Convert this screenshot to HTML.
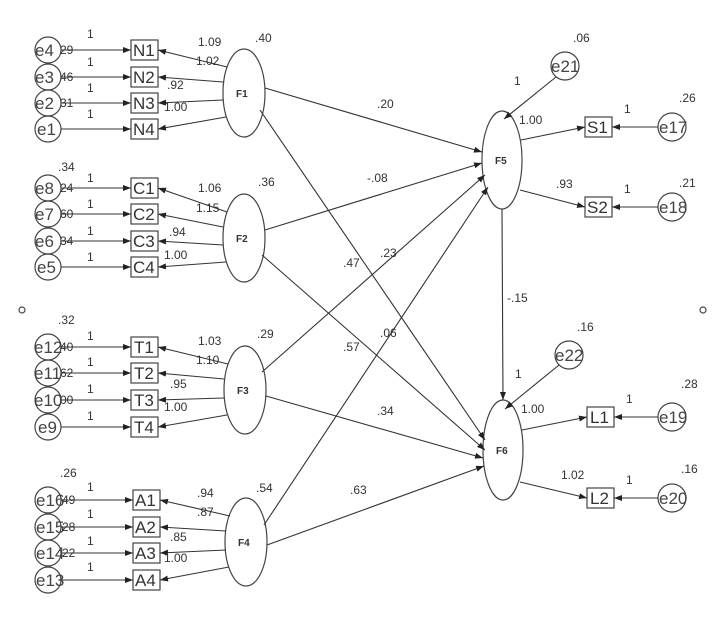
<!DOCTYPE html>
<html><head><meta charset="utf-8"><style>
html,body{margin:0;padding:0;background:#fff;}
svg{display:block;font-family:"Liberation Sans",Arial,sans-serif;}
.l{font-size:12px;fill:#333;}
.b{font-size:17px;fill:#333;}
.e{font-size:17px;fill:#444;}
.f{font-size:10px;font-weight:bold;fill:#333;}
</style></head><body>
<svg width="720" height="619" viewBox="0 0 720 619" xmlns="http://www.w3.org/2000/svg">
<defs><marker id="a" markerWidth="8" markerHeight="6" refX="8" refY="3" orient="auto" markerUnits="userSpaceOnUse"><path d="M0,0 L8,3 L0,6z" fill="#222"/></marker></defs>
<g stroke="#444" stroke-width="1.2" fill="none">
<!-- F1 group -->
<circle cx="48" cy="50" r="13"/><circle cx="48" cy="77" r="13"/><circle cx="48" cy="103" r="13"/><circle cx="48" cy="129" r="13"/>
<rect x="131" y="40" width="27" height="20"/><rect x="131" y="67" width="27" height="20"/><rect x="131" y="93" width="27" height="20"/><rect x="131" y="119" width="27" height="20"/>
<ellipse cx="244" cy="93" rx="21" ry="44"/>
<!-- F2 -->
<circle cx="48" cy="188" r="13"/><circle cx="48" cy="214" r="13"/><circle cx="48" cy="241" r="13"/><circle cx="48" cy="267" r="13"/>
<rect x="131" y="178" width="27" height="20"/><rect x="131" y="204" width="27" height="20"/><rect x="131" y="231" width="27" height="20"/><rect x="131" y="257" width="27" height="20"/>
<ellipse cx="244" cy="238" rx="21" ry="44"/>
<!-- F3 -->
<circle cx="48" cy="347" r="13"/><circle cx="48" cy="373" r="13"/><circle cx="48" cy="400" r="13"/><circle cx="48" cy="427" r="13"/>
<rect x="131" y="337" width="27" height="20"/><rect x="131" y="363" width="27" height="20"/><rect x="131" y="390" width="27" height="20"/><rect x="131" y="417" width="27" height="20"/>
<ellipse cx="245" cy="390" rx="21" ry="44"/>
<!-- F4 -->
<circle cx="48" cy="500" r="13"/><circle cx="48" cy="527" r="13"/><circle cx="48" cy="553" r="13"/><circle cx="48" cy="580" r="13"/>
<rect x="133" y="490" width="27" height="20"/><rect x="133" y="517" width="27" height="20"/><rect x="133" y="543" width="27" height="20"/><rect x="133" y="570" width="27" height="20"/>
<ellipse cx="246" cy="542" rx="21" ry="44"/>
<!-- right -->
<ellipse cx="502" cy="160" rx="20" ry="49"/><ellipse cx="503" cy="450" rx="20" ry="50"/>
<rect x="585" y="117" width="27" height="20"/><rect x="585" y="197" width="27" height="20"/>
<rect x="587" y="407" width="27" height="20"/><rect x="587" y="488" width="27" height="20"/>
<circle cx="672" cy="127" r="14"/><circle cx="672" cy="207" r="14"/><circle cx="672" cy="417" r="14"/><circle cx="672" cy="498" r="14"/>
<circle cx="565" cy="66" r="14"/><circle cx="569" cy="355" r="14"/>
<circle cx="22" cy="310" r="3"/><circle cx="703" cy="310" r="3"/>
</g>
<g stroke="#333" stroke-width="1.1" marker-end="url(#a)">
<line x1="61" y1="50" x2="131" y2="50"/><line x1="61" y1="77" x2="131" y2="77"/><line x1="61" y1="103" x2="131" y2="103"/><line x1="61" y1="129" x2="131" y2="129"/>
<line x1="227" y1="67" x2="158" y2="50"/><line x1="223" y1="82" x2="158" y2="77"/><line x1="223" y1="100" x2="158" y2="103"/><line x1="226" y1="117" x2="158" y2="129"/>
<line x1="61" y1="188" x2="131" y2="188"/><line x1="61" y1="214" x2="131" y2="214"/><line x1="61" y1="241" x2="131" y2="241"/><line x1="61" y1="267" x2="131" y2="267"/>
<line x1="227" y1="212" x2="158" y2="188"/><line x1="223" y1="227" x2="158" y2="214"/><line x1="223" y1="245" x2="158" y2="241"/><line x1="226" y1="262" x2="158" y2="267"/>
<line x1="61" y1="347" x2="131" y2="347"/><line x1="61" y1="373" x2="131" y2="373"/><line x1="61" y1="400" x2="131" y2="400"/><line x1="61" y1="427" x2="131" y2="427"/>
<line x1="228" y1="364" x2="158" y2="347"/><line x1="224" y1="379" x2="158" y2="373"/><line x1="224" y1="398" x2="158" y2="400"/><line x1="227" y1="415" x2="158" y2="427"/>
<line x1="61" y1="500" x2="133" y2="500"/><line x1="61" y1="527" x2="133" y2="527"/><line x1="61" y1="553" x2="133" y2="553"/><line x1="61" y1="580" x2="133" y2="580"/>
<line x1="230" y1="516" x2="160" y2="500"/><line x1="226" y1="531" x2="160" y2="527"/><line x1="226" y1="550" x2="160" y2="553"/><line x1="229" y1="567" x2="160" y2="580"/>
<line x1="265" y1="88" x2="482" y2="152"/><line x1="260" y1="110" x2="485" y2="440"/>
<line x1="265" y1="230" x2="482" y2="163"/><line x1="262" y1="255" x2="485" y2="450"/>
<line x1="262" y1="372" x2="485" y2="175"/><line x1="266" y1="396" x2="483" y2="458"/>
<line x1="264" y1="525" x2="488" y2="187"/><line x1="267" y1="545" x2="484" y2="466"/>
<line x1="502" y1="209" x2="503" y2="400"/>
<line x1="556" y1="77" x2="504" y2="119"/><line x1="559" y1="365" x2="505" y2="409"/>
<line x1="521" y1="140" x2="585" y2="127"/><line x1="520" y1="190" x2="585" y2="207"/>
<line x1="658" y1="127" x2="612" y2="127"/><line x1="658" y1="207" x2="612" y2="207"/>
<line x1="522" y1="430" x2="587" y2="417"/><line x1="520" y1="482" x2="587" y2="498"/>
<line x1="658" y1="417" x2="614" y2="417"/><line x1="658" y1="498" x2="614" y2="498"/>
</g>
<g class="e">
<text x="35" y="56">e4</text><text x="35" y="83">e3</text><text x="35" y="109">e2</text><text x="37" y="135">e1</text>
<text x="35" y="194">e8</text><text x="35" y="220">e7</text><text x="35" y="247">e6</text><text x="37" y="273">e5</text>
<text x="34" y="353">e12</text><text x="34" y="379">e11</text><text x="34" y="406">e10</text><text x="38" y="433">e9</text>
<text x="36" y="506">e16</text><text x="36" y="533">e15</text><text x="36" y="559">e14</text><text x="36" y="586">e13</text>
<text x="659" y="133">e17</text><text x="659" y="213">e18</text><text x="659" y="423">e19</text><text x="659" y="504">e20</text>
<text x="551" y="72">e21</text><text x="555" y="361">e22</text>
</g>
<g class="b">
<text x="133" y="56">N1</text><text x="133" y="83">N2</text><text x="133" y="109">N3</text><text x="133" y="135">N4</text>
<text x="133" y="194">C1</text><text x="133" y="220">C2</text><text x="133" y="247">C3</text><text x="133" y="273">C4</text>
<text x="134" y="353">T1</text><text x="134" y="379">T2</text><text x="134" y="406">T3</text><text x="134" y="433">T4</text>
<text x="135" y="506">A1</text><text x="135" y="533">A2</text><text x="135" y="559">A3</text><text x="135" y="586">A4</text>
<text x="587" y="133">S1</text><text x="587" y="213">S2</text><text x="590" y="423">L1</text><text x="590" y="504">L2</text>
</g>
<g class="f">
<text x="236" y="97">F1</text><text x="236" y="242">F2</text><text x="237" y="394">F3</text><text x="238" y="546">F4</text>
<text x="495" y="164">F5</text><text x="496" y="454">F6</text>
</g>
<g class="l">
<text x="87" y="38">1</text><text x="87" y="66">1</text><text x="87" y="92">1</text><text x="87" y="118">1</text>
<text x="60" y="54">29</text><text x="60" y="81">46</text><text x="60" y="107">31</text>
<text x="198" y="46">1.09</text><text x="196" y="65">1.02</text><text x="167" y="89">.92</text><text x="164" y="111">1.00</text><text x="255" y="42">.40</text>
<text x="58" y="171">.34</text>
<text x="87" y="182">1</text><text x="87" y="208">1</text><text x="87" y="235">1</text><text x="87" y="261">1</text>
<text x="60" y="192">24</text><text x="60" y="218">60</text><text x="60" y="245">34</text>
<text x="198" y="192">1.06</text><text x="196" y="212">1.15</text><text x="169" y="236">.94</text><text x="164" y="259">1.00</text><text x="258" y="186">.36</text>
<text x="58" y="324">.32</text>
<text x="87" y="340">1</text><text x="87" y="366">1</text><text x="87" y="393">1</text><text x="87" y="420">1</text>
<text x="60" y="351">40</text><text x="60" y="377">62</text><text x="60" y="404">00</text>
<text x="198" y="345">1.03</text><text x="196" y="364">1.10</text><text x="170" y="388">.95</text><text x="164" y="411">1.00</text><text x="257" y="338">.29</text>
<text x="60" y="477">.26</text>
<text x="87" y="491">1</text><text x="87" y="518">1</text><text x="87" y="545">1</text><text x="87" y="571">1</text>
<text x="62" y="504">49</text><text x="62" y="531">28</text><text x="62" y="557">22</text>
<text x="197" y="497">.94</text><text x="197" y="516">.87</text><text x="170" y="541">.85</text><text x="164" y="562">1.00</text><text x="256" y="492">.54</text>
<text x="377" y="108">.20</text><text x="367" y="182">-.08</text><text x="380" y="257">.23</text><text x="343" y="267">.47</text>
<text x="380" y="337">.06</text><text x="343" y="351">.57</text><text x="377" y="415">.34</text><text x="350" y="494">.63</text>
<text x="507" y="302">-.15</text>
<text x="573" y="42">.06</text><text x="514" y="85">1</text><text x="519" y="124">1.00</text><text x="556" y="188">.93</text>
<text x="624" y="113">1</text><text x="679" y="102">.26</text><text x="624" y="193">1</text><text x="679" y="187">.21</text>
<text x="577" y="331">.16</text><text x="515" y="378">1</text><text x="521" y="413">1.00</text><text x="561" y="479">1.02</text>
<text x="626" y="403">1</text><text x="681" y="388">.28</text><text x="626" y="484">1</text><text x="681" y="473">.16</text>
</g>
</svg>
</body></html>
